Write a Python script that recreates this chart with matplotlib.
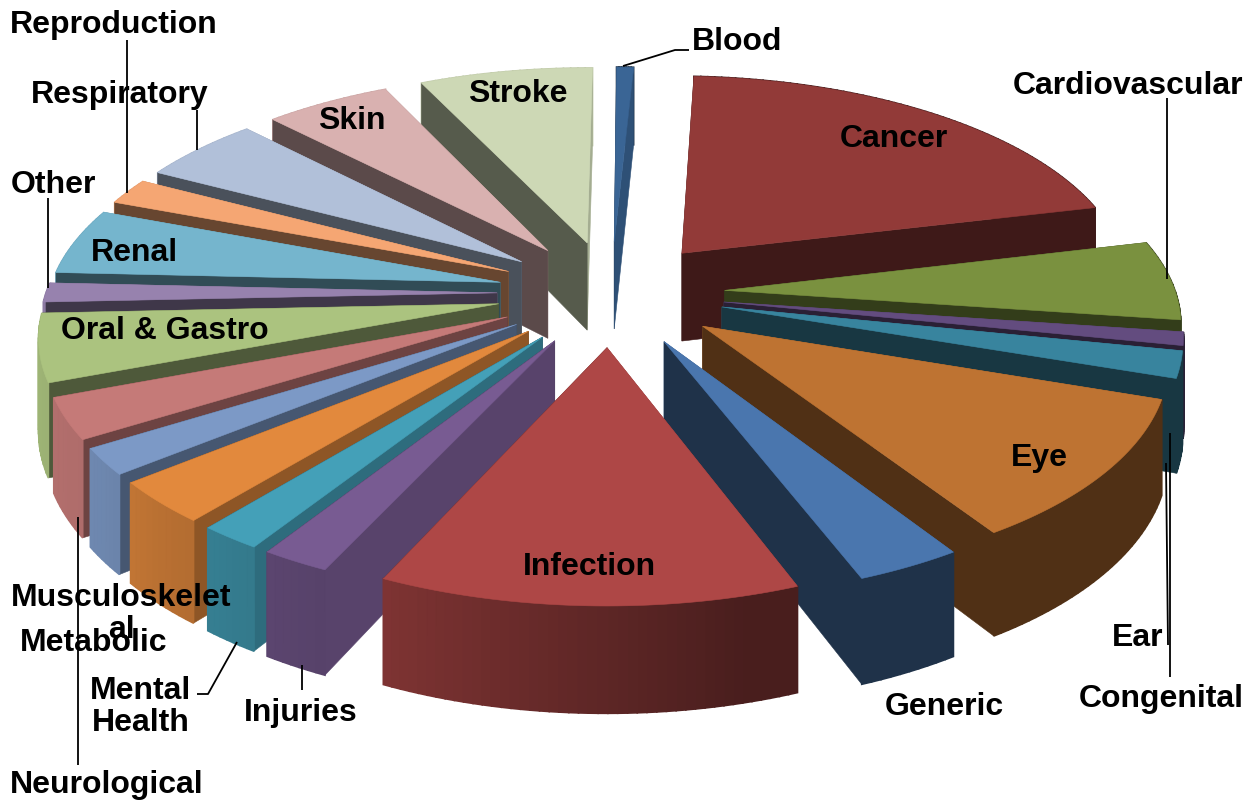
import numpy as np
import matplotlib
matplotlib.use("Agg")
import matplotlib.pyplot as plt
from matplotlib.colors import to_rgb

# ---- data (share of total, %) ----
categories = ["Blood", "Cancer", "Cardiovascular", "Congenital", "Ear", "Eye", "Generic",
              "Infection", "Injuries", "Mental Health", "Metabolic", "Musculoskeletal",
              "Neurological", "Oral & Gastro", "Other", "Renal", "Reproduction",
              "Respiratory", "Skin", "Stroke"]
values = [0.7, 20.4, 6.0, 1.0, 2.0, 10.7, 3.25, 12.75, 2.1, 1.9, 3.2, 2.0, 3.1, 5.1, 1.45,
          5.0, 2.0, 5.0, 5.2, 7.15]
colors = ["#3A6595", "#923A38", "#7A913F", "#634C7F", "#38849E", "#BE7332", "#4A76AE",
          "#AE4746", "#785B92", "#44A0B8", "#E2893D", "#7C99C6", "#C57A78", "#ABC37F",
          "#9782AE", "#75B5CD", "#F5A673", "#B1C0D9", "#D9B1B0", "#CDD8B5"]

# ---- 3-D pie geometry (styling of the projection) ----
START = 0.4          # first slice angle, degrees clockwise from 12 o'clock
EXPLODE = 0.245
RADIUS = 0.97
CX, CY = 611, 293    # projection centre in pixels
AX, AY = 465, 216    # horizontal / depth scale
PERSP = 0.133
HEIGHT = 90


def project(x, y, z=0.0):
    s = 1 + PERSP * y
    return CX + AX * x / s, CY - AY * y / s + z * HEIGHT / s


def shade(col, f):
    return tuple(c * f for c in to_rgb(col))


def cut_factor(phi):
    return np.interp(phi % 360, [0, 90, 114, 129, 140, 149, 160, 167, 360],
                     [.8, .8, .74, .63, .57, .55, .45, .42, .42])


def rim_factor(phi):
    return np.interp(phi % 360, [0, 165, 204, 225, 234, 260, 360],
                     [.42, .42, .72, .82, .88, .93, .93])


fig = plt.figure(figsize=(12.48, 8), dpi=100)
ax = fig.add_axes([0, 0, 1, 1])
ax.set_xlim(0, 1248)
ax.set_ylim(800, 0)
ax.axis("off")

vals = np.asarray(values, dtype=float)
sweep = vals / vals.sum() * 360
starts = START + np.concatenate([[0], np.cumsum(sweep)[:-1]])
ends = starts + sweep
mids = (starts + ends) / 2
order = np.argsort(-np.cos(np.radians(mids)))


def draw(pts, col, z, lw=0.4):
    xs, ys = zip(*pts)
    ax.fill(xs, ys, facecolor=col, edgecolor=col, lw=lw, zorder=z)


z = 1
for i in order:
    m = np.radians(mids[i])
    ox, oy = EXPLODE * np.sin(m), EXPLODE * np.cos(m)
    th = np.radians(np.linspace(starts[i], ends[i], max(8, int(sweep[i]))))
    rx = ox + RADIUS * np.sin(th)
    ry = oy + RADIUS * np.cos(th)

    faces = []
    # outer rim segments
    for j in range(len(th) - 1):
        quad = [project(rx[j], ry[j]), project(rx[j + 1], ry[j + 1]),
                project(rx[j + 1], ry[j + 1], 1), project(rx[j], ry[j], 1)]
        phi = np.degrees((th[j] + th[j + 1]) / 2)
        faces.append(((ry[j] + ry[j + 1]) / 2, quad, shade(colors[i], rim_factor(phi)), 1.2))
    # two cut faces
    for j, phi in ((0, np.degrees(th[0]) - 90), (-1, np.degrees(th[-1]) + 90)):
        quad = [project(ox, oy), project(rx[j], ry[j]),
                project(rx[j], ry[j], 1), project(ox, oy, 1)]
        faces.append(((oy + ry[j]) / 2, quad, shade(colors[i], cut_factor(phi)), 0.4))
    for _, quad, col, lw in sorted(faces, key=lambda f: -f[0]):
        draw(quad, col, z, lw)
        z += 1
    top = [project(ox, oy)] + [project(a, b) for a, b in zip(rx, ry)]
    draw(top, colors[i], z)
    z += 1

# ---- leader lines ----
leaders = [
    ([623, 675, 689], [66, 50, 50]),
    ([1167, 1167], [98, 279]),
    ([1170, 1170], [433, 677]),
    ([1166, 1168], [463, 645]),
    ([127, 127], [40, 193]),
    ([197, 197], [110, 150]),
    ([48, 48], [198, 288]),
    ([77.5, 77.5], [517, 765]),
    ([197, 208, 237], [694, 694, 642]),
    ([302, 302], [665, 690]),
]
for xs, ys in leaders:
    ax.plot(xs, ys, color="black", lw=1.3, zorder=z, solid_capstyle="butt")
z += 1

# ---- labels ----
label_pos = {
    "Blood": (737, 42), "Cancer": (894, 139), "Cardiovascular": (1128, 86),
    "Congenital": (1161, 699), "Ear": (1138, 638), "Eye": (1039, 458),
    "Generic": (944, 707), "Infection": (589, 567), "Injuries": (301, 713),
    "Mental Health": (141, 707), "Metabolic": (94, 643), "Musculoskeletal": (121, 614),
    "Neurological": (107, 785), "Oral & Gastro": (165, 331), "Other": (53, 185),
    "Renal": (134, 253), "Reproduction": (114, 25), "Respiratory": (120, 95),
    "Skin": (352, 121), "Stroke": (518, 94),
}
wrapped = {"Mental Health": "Mental\nHealth", "Musculoskeletal": "Musculoskelet\nal"}
for name in categories:
    x, y = label_pos[name]
    ax.text(x, y, wrapped.get(name, name), ha="center", va="center", ma="center",
            fontsize=23, fontweight="bold", family="Liberation Sans", color="black",
            linespacing=1.13, zorder=z)

fig.savefig("out.png", dpi=100)
